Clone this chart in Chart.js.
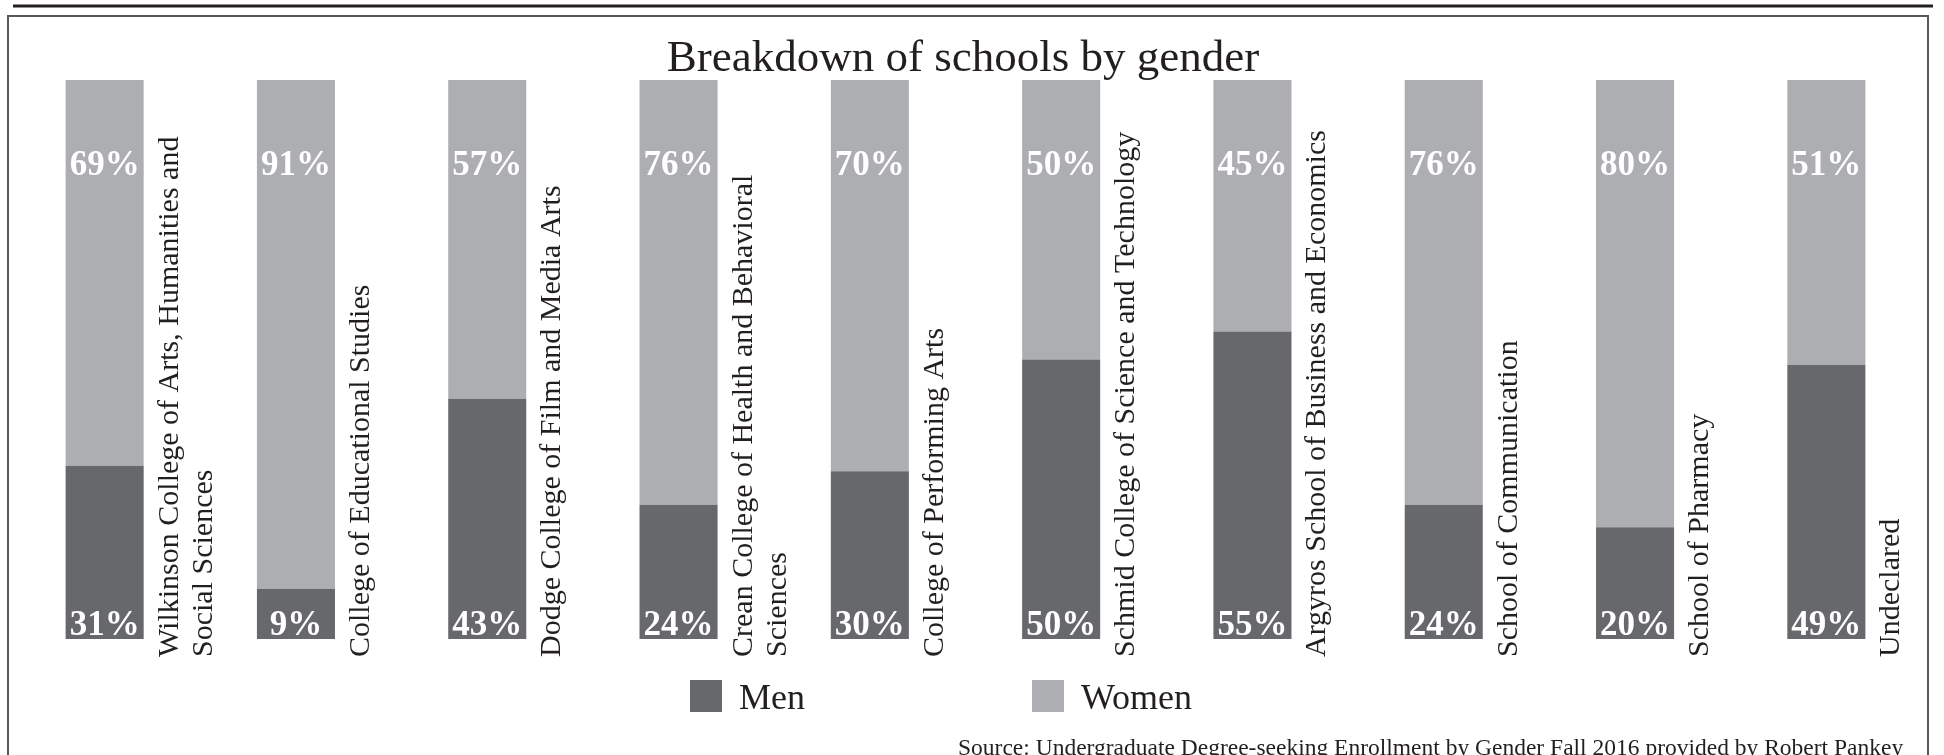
<!DOCTYPE html>
<html>
<head>
<meta charset="utf-8">
<title>Breakdown of schools by gender</title>
<script src="https://cdn.jsdelivr.net/npm/chart.js@4.4.1/dist/chart.umd.min.js"></script>
<style>
    html, body { margin: 0; padding: 0; background: #ffffff; }
    #wrap { position: relative; width: 1944px; height: 755px; }
</style>
</head>
<body>
<div id="wrap"><canvas id="genderChart"></canvas></div>
<script>
// Chart data
const schools = [
    ['Wilkinson College of Arts, Humanities and', 'Social Sciences'],
    ['College of Educational Studies'],
    ['Dodge College of Film and Media Arts'],
    ['Crean College of Health and Behavioral', 'Sciences'],
    ['College of Performing Arts'],
    ['Schmid College of Science and Technology'],
    ['Argyros School of Business and Economics'],
    ['School of Communication'],
    ['School of Pharmacy'],
    ['Undeclared']
];
const menPct = [31, 9, 43, 24, 30, 50, 55, 24, 20, 49];
const womenPct = [69, 91, 57, 76, 70, 50, 45, 76, 80, 51];

const titleText = 'Breakdown of schools by gender';
const sourceText = 'Source: Undergraduate Degree-seeking Enrollment by Gender Fall 2016 provided by Robert Pankey';

const MEN_COLOR = '#67686c';
const WOMEN_COLOR = '#adaeb1';
const INK = '#231f20';
const SERIF = '"Liberation Serif", "DejaVu Serif", serif';

// Frame, title, rotated labels, legend and source line
const decorPlugin = {
    id: 'decor',
    beforeDraw(chart) {
        const ctx = chart.ctx;
        ctx.save();
        // heavy rule across the top
        ctx.strokeStyle = INK;
        ctx.lineWidth = 3;
        ctx.beginPath();
        ctx.moveTo(13, 6);
        ctx.lineTo(1933, 6);
        ctx.stroke();
        // open box around the graphic
        ctx.strokeStyle = '#58595b';
        ctx.lineWidth = 2;
        ctx.beginPath();
        ctx.moveTo(8, 755);
        ctx.lineTo(8, 16);
        ctx.lineTo(1928, 16);
        ctx.lineTo(1928, 755);
        ctx.stroke();
        ctx.restore();
    },
    afterDatasetsDraw(chart) {
        const ctx = chart.ctx;
        const x = chart.scales.x;
        const y = chart.scales.y;
        const meta = chart.getDatasetMeta(0);
        ctx.save();

        // percentages inside the bars
        ctx.fillStyle = '#ffffff';
        ctx.font = 'bold 35px ' + SERIF;
        ctx.textAlign = 'center';
        ctx.textBaseline = 'alphabetic';
        menPct.forEach((v, i) => {
            const cx = x.getPixelForValue(i);
            ctx.fillText(womenPct[i] + '%', cx, y.getPixelForValue(100) + 95);
            ctx.fillText(v + '%', cx, y.getPixelForValue(0) - 4);
        });

        // school names, rotated, beside each bar
        ctx.fillStyle = INK;
        ctx.font = '30px ' + SERIF;
        ctx.textAlign = 'left';
        schools.forEach((lines, i) => {
            const bar = meta.data[i];
            const right = bar.x + bar.width / 2;
            lines.forEach((line, k) => {
                ctx.save();
                ctx.translate(right + 34 + k * 34, y.getPixelForValue(0) + 18);
                ctx.rotate(-Math.PI / 2);
                ctx.fillText(line, 0, 0);
                ctx.restore();
            });
        });
        ctx.restore();
    },
    afterDraw(chart) {
        const ctx = chart.ctx;
        ctx.save();
        ctx.fillStyle = INK;
        ctx.textBaseline = 'alphabetic';

        // title
        ctx.font = '45px ' + SERIF;
        ctx.textAlign = 'center';
        ctx.fillText(titleText, 963, 71);

        // legend
        const legendX = [690, 1032];
        ctx.font = '36px ' + SERIF;
        ctx.textAlign = 'left';
        chart.data.datasets.forEach((ds, i) => {
            ctx.fillStyle = ds.backgroundColor;
            ctx.fillRect(legendX[i], 680, 32, 32);
            ctx.fillStyle = INK;
            ctx.fillText(ds.label, legendX[i] + 49, 709);
        });

        // source line
        ctx.font = '23.5px ' + SERIF;
        ctx.textAlign = 'left';
        ctx.fillText(sourceText, 958, 755);
        ctx.restore();
    }
};

new Chart(document.getElementById('genderChart'), {
    type: 'bar',
    data: {
        labels: schools,
        datasets: [
            {
                label: 'Men',
                data: menPct,
                backgroundColor: MEN_COLOR,
                borderWidth: 0
            },
            {
                label: 'Women',
                data: womenPct,
                backgroundColor: WOMEN_COLOR,
                borderWidth: 0
            }
        ]
    },
    options: {
        responsive: true,
        maintainAspectRatio: false,
        animation: false,
        layout: {
            padding: { left: 9, right: 22, top: 80, bottom: 116 }
        },
        datasets: {
            bar: {
                categoryPercentage: 1,
                barPercentage: 0.408
            }
        },
        plugins: {
            legend: { display: false },
            title: { display: false },
            tooltip: { enabled: false }
        },
        scales: {
            x: {
                stacked: true,
                display: false,
                grid: { display: false }
            },
            y: {
                stacked: true,
                display: false,
                min: 0,
                max: 100,
                grid: { display: false }
            }
        }
    },
    plugins: [decorPlugin]
});
</script>
</body>
</html>
